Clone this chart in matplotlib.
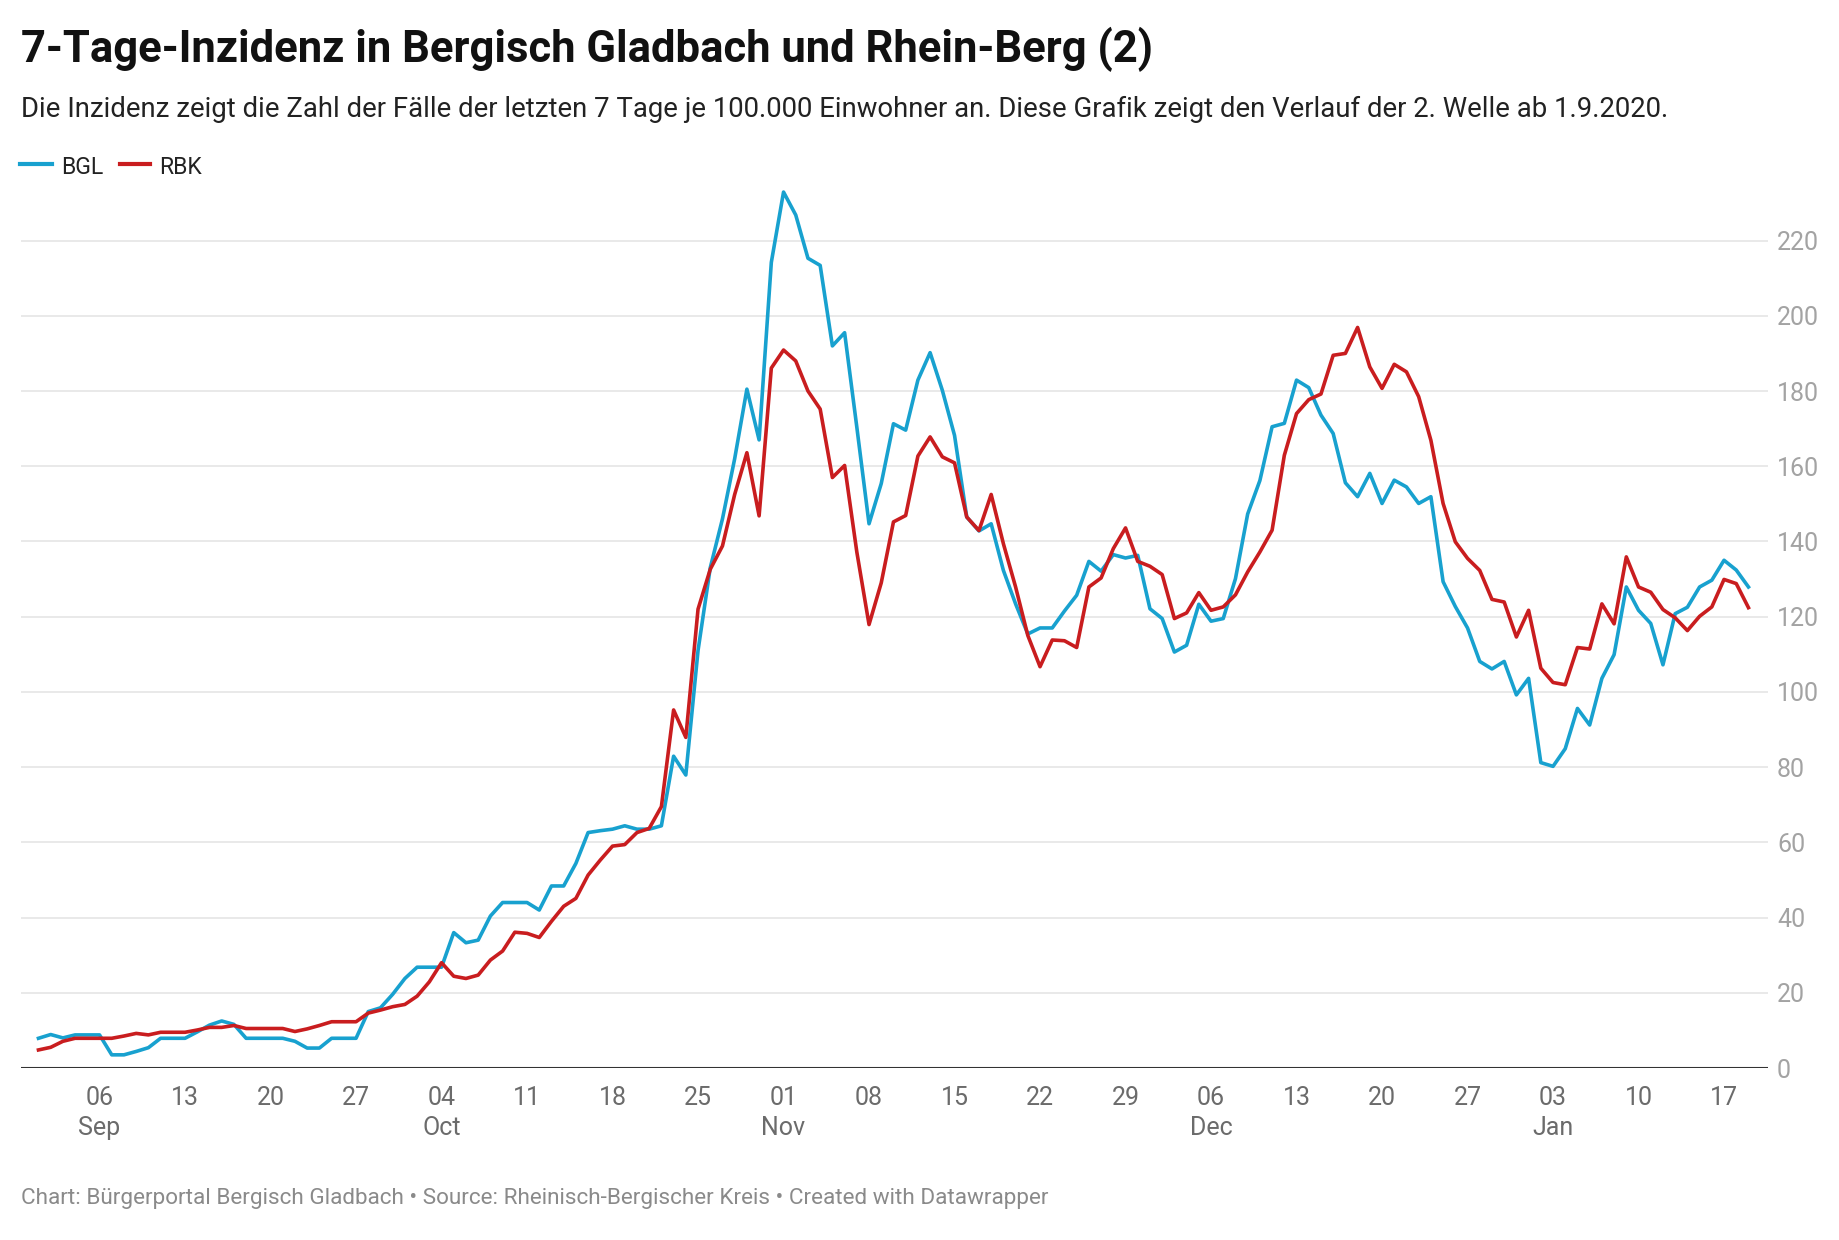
import matplotlib
matplotlib.use("Agg")
import matplotlib.pyplot as plt
import matplotlib.dates as mdates
from matplotlib.lines import Line2D
import pandas as pd

plt.rcParams['font.family'] = ['Roboto', 'DejaVu Sans']

# daily values, 1.9.2020 - 19.1.2021
dates = pd.date_range('2020-09-01', periods=141, freq='D')

bgl = [7.9, 8.9, 8.0, 8.8, 8.8, 8.8, 3.5, 3.5, 4.4, 5.4,
       7.9, 7.9, 7.9, 9.6, 11.4, 12.5, 11.6, 7.9, 7.9, 7.9,
       7.9, 7.1, 5.3, 5.3, 7.9, 7.9, 7.9, 15.0, 16.0, 19.6,
       23.8, 26.8, 26.8, 26.8, 36.0, 33.3, 34.0, 40.4, 44.0, 44.0,
       44.0, 42.0, 48.4, 48.4, 54.4, 62.6, 63.1, 63.5, 64.4, 63.5,
       63.5, 64.4, 82.9, 77.9, 111.0, 133.0, 146.0, 162.0, 180.5, 167.0,
       214.2, 232.9, 226.8, 215.3, 213.4, 192.0, 195.5, 170.4, 144.7, 155.4,
       171.3, 169.6, 182.9, 190.2, 180.2, 168.2, 146.5, 142.8, 144.7, 132.3,
       123.4, 115.4, 117.0, 117.0, 121.5, 125.7, 134.7, 132.1, 136.5, 135.6,
       136.3, 122.1, 119.5, 110.6, 112.4, 123.3, 118.8, 119.5, 130.1, 147.3,
       156.2, 170.5, 171.4, 182.9, 180.9, 173.6, 168.7, 155.6, 151.9, 158.1,
       150.1, 156.3, 154.5, 150.1, 151.9, 129.3, 122.7, 117.0, 108.1, 106.1,
       108.1, 99.2, 103.6, 81.2, 80.2, 84.9, 95.6, 91.2, 103.6, 109.9,
       127.9, 121.7, 118.2, 107.2, 120.8, 122.5, 127.9, 129.7, 135.0, 132.4,
       127.9]

rbk = [4.8, 5.5, 7.1, 7.9, 7.9, 7.9, 7.9, 8.5, 9.2, 8.8,
       9.5, 9.5, 9.5, 10.1, 10.8, 10.8, 11.3, 10.5, 10.5, 10.5,
       10.5, 9.7, 10.4, 11.3, 12.3, 12.3, 12.3, 14.6, 15.4, 16.3,
       16.9, 19.1, 22.9, 28.0, 24.4, 23.8, 24.7, 28.7, 31.1, 36.1,
       35.8, 34.7, 39.0, 43.0, 45.1, 51.3, 55.3, 59.0, 59.4, 62.6,
       63.7, 69.5, 95.2, 87.9, 122.0, 132.6, 138.8, 152.5, 163.6, 146.8,
       186.1, 190.9, 188.0, 180.0, 175.2, 157.0, 160.2, 137.2, 117.9, 129.0,
       145.2, 146.9, 162.7, 167.8, 162.5, 160.9, 146.5, 142.9, 152.5, 139.4,
       127.9, 115.0, 106.7, 113.8, 113.6, 111.8, 127.9, 130.3, 138.1, 143.6,
       134.7, 133.4, 131.2, 119.5, 121.0, 126.4, 121.7, 122.6, 125.8, 131.9,
       137.2, 143.0, 162.9, 174.0, 177.7, 179.2, 189.5, 190.0, 196.9, 186.4,
       180.7, 187.1, 185.1, 178.5, 166.9, 150.1, 139.9, 135.5, 132.3, 124.6,
       123.9, 114.6, 121.7, 106.3, 102.5, 101.9, 111.8, 111.4, 123.4, 118.1,
       135.9, 127.9, 126.5, 121.9, 119.7, 116.3, 120.1, 122.6, 129.9, 128.8,
       122.4]

series_names = ['BGL', 'RBK']
y_ticks = list(range(0, 221, 20))
tick_dates = pd.date_range('2020-09-06', '2021-01-17', freq='7D')

title = '7-Tage-Inzidenz in Bergisch Gladbach und Rhein-Berg (2)'
subtitle = ('Die Inzidenz zeigt die Zahl der Fälle der letzten 7 Tage je 100.000 Einwohner an. '
            'Diese Grafik zeigt den Verlauf der 2. Welle ab 1.9.2020.')
footer = 'Chart: Bürgerportal Bergisch Gladbach • Source: Rheinisch-Bergischer Kreis • Created with Datawrapper'

BLUE = '#18a1cf'
RED = '#c91d1f'

W, H = 1840, 1240
fig = plt.figure(figsize=(W / 100, H / 100), dpi=100)


def fx(x):
    return x / W


def fy(y):
    return 1 - y / H


ax = fig.add_axes([fx(21), fy(1068), fx(1768) - fx(21), fy(180.4) - fy(1068)])

ax.plot(dates, bgl, color=BLUE, lw=2.6, clip_on=False)
ax.plot(dates, rbk, color=RED, lw=2.6, clip_on=False)

start = mdates.date2num(dates[0])
ax.set_xlim(start - 1.43, start + 141.6)
ax.set_ylim(0, 236)

for s in ax.spines.values():
    s.set_visible(False)
ax.axhline(0, color='#333333', lw=1.5, zorder=3)

ax.yaxis.tick_right()
ax.set_yticks(y_ticks)
ax.set_yticklabels([str(v) for v in y_ticks])
ax.tick_params(axis='y', length=0, pad=6.5, labelsize=18, labelcolor='#a3a3a3')
ax.grid(axis='y', color='#e3e3e3', lw=1.1)
ax.set_axisbelow(True)

labels = []
prev = None
for d in tick_dates:
    lab = d.strftime('%d')
    if prev is None or d.month != prev.month:
        lab += '\n' + d.strftime('%b')
    labels.append(lab)
    prev = d
ax.set_xticks(mdates.date2num(tick_dates))
ax.set_xticklabels(labels, linespacing=1.3)
ax.tick_params(axis='x', length=0, pad=13, labelsize=18, labelcolor='#6b6b6b')

fig.text(fx(21), fy(62), title, fontsize=31.4, fontweight='bold', color='#111111', va='baseline')
fig.text(fx(21), fy(117), subtitle, fontsize=19.8, color='#222222', va='baseline')

# legend
leg_x = [(20, 52, 61), (120, 150, 159)]
for (x0, x1, xt), name, col in zip(leg_x, series_names, [BLUE, RED]):
    fig.add_artist(Line2D([fx(x0), fx(x1)], [fy(164), fy(164)], color=col, lw=3,
                          transform=fig.transFigure))
    fig.text(fx(xt), fy(174), name, fontsize=16.6, color='#222222', va='baseline')

fig.text(fx(21), fy(1204), footer, fontsize=16.2, color='#8a8a8a', va='baseline')

fig.savefig('out.png', dpi=100)
